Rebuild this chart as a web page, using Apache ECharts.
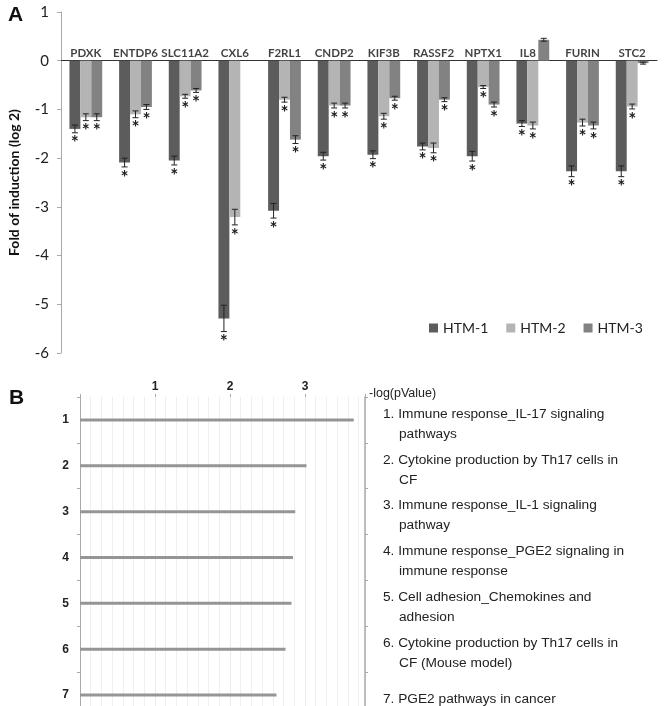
<!DOCTYPE html>
<html>
<head>
<meta charset="utf-8">
<script src="https://cdn.jsdelivr.net/npm/echarts@6/dist/echarts.min.js"></script>
<style>html,body{margin:0;padding:0;background:#fff;}#c{width:664px;height:706px;}</style>
</head>
<body>
<div id="c"></div>
<script>
// ---- Panel A data ----
const categories = ['PDXK','ENTDP6','SLC11A2','CXL6','F2RL1','CNDP2','KIF3B','RASSF2','NPTX1','IL8','FURIN','STC2'];
const seriesNames = ['HTM-1','HTM-2','HTM-3'];
const htm1 = [-1.40,-2.09,-2.05,-5.29,-3.08,-1.96,-1.93,-1.76,-1.96,-1.29,-2.27,-2.27];
const htm2 = [-1.16,-1.10,-0.73,-3.21,-0.80,-0.92,-1.14,-1.79,-0.54,-1.33,-1.27,-0.94];
const htm3 = [-1.16,-0.95,-0.61,null,-1.62,-0.92,-0.77,-0.80,-0.90,0.43,-1.33,-0.05];
const err1 = [0.08,0.09,0.09,0.27,0.15,0.08,0.08,0.07,0.10,0.06,0.11,0.11];
const err2 = [0.07,0.07,0.04,0.16,0.05,0.05,0.06,0.10,0.03,0.07,0.07,0.05];
const err3 = [0.07,0.05,0.04,null,0.08,0.05,0.04,0.04,0.05,0.03,0.07,0.02];
const sig1 = [1,1,1,1,1,1,1,1,1,1,1,1];
const sig2 = [1,1,1,1,1,1,1,1,1,1,1,1];
const sig3 = [1,1,1,0,1,1,1,1,1,0,1,0];
const yTicksA = {min:-6, max:1, interval:1};

// ---- Panel B data ----
const pathwayIds = ['1','2','3','4','5','6','7'];
const negLogP = [3.65, 3.02, 2.87, 2.84, 2.82, 2.74, 2.62];
const descLine1 = [
  '1. Immune response_IL-17 signaling',
  '2. Cytokine production by Th17 cells in',
  '3. Immune response_IL-1 signaling',
  '4. Immune response_PGE2 signaling in',
  '5. Cell adhesion_Chemokines and',
  '6. Cytokine production by Th17 cells in',
  '7. PGE2 pathways in cancer'
];
const descLine2 = ['pathways','CF','pathway','immune response','adhesion','CF (Mouse model)',''];

const colors = ['#5c5c5c','#b4b4b4','#828282'];
const vals = [htm1, htm2, htm3];
const errs = [err1, err2, err3];
const sigs = [sig1, sig2, sig3];
const GAP = 0.34;

const chart = echarts.init(document.getElementById('c'));

function errSeries(k){
  const data = [];
  categories.forEach((c,i)=>{ if (vals[k][i] != null) data.push([i, vals[k][i], errs[k][i], sigs[k][i]]); });
  return {
    type:'custom', name:'err'+k, xAxisIndex:0, yAxisIndex:0, z:5,
    encode:{x:0, y:1},
    data,
    renderItem:function(params, api){
      const ci = api.value(0), v = api.value(1), e = api.value(2), s = api.value(3);
      const bw = api.size([1,0])[0]*(1-GAP)/3;
      const cx = api.coord([ci, v])[0] + (k-1)*bw;
      const yTop = api.coord([ci, v+e])[1];
      const yBot = api.coord([ci, v-e])[1];
      const hw = 3;
      const st = {stroke:'#222', lineWidth:1};
      const children = [
        {type:'line', shape:{x1:cx, y1:yTop, x2:cx, y2:yBot}, style:st},
        {type:'line', shape:{x1:cx-hw, y1:yTop, x2:cx+hw, y2:yTop}, style:st},
        {type:'line', shape:{x1:cx-hw, y1:yBot, x2:cx+hw, y2:yBot}, style:st}
      ];
      if (s) {
        children.push({type:'text', style:{text:'*', x:cx, y:yBot+1, align:'center', verticalAlign:'top',
          font:'bold 19px Lato', fill:'#222'}});
      }
      return {type:'group', children};
    }
  };
}

const option = {
  animation:false,
  backgroundColor:'#fff',
  graphic:[
    {type:'text', left:8, top:5, style:{text:'A', font:'bold 21px "Liberation Sans"', fill:'#111'}},
    {type:'text', left:9, top:388, style:{text:'B', font:'bold 21px "Liberation Sans"', fill:'#111'}}
  ],
  legend:{
    data:seriesNames, left:424, top:316, icon:'rect', itemWidth:9, itemHeight:9, itemGap:18,
    textStyle:{fontFamily:'Lato', fontSize:14, color:'#222'}
  },
  grid:[
    {left:61, top:12, width:596, height:341, outerBoundsMode:'none'},
    {left:80, top:397, width:285, height:321, outerBoundsMode:'none'}
  ],
  xAxis:[
    {type:'category', gridIndex:0, data:categories, position:'bottom',
     axisLine:{onZero:true, lineStyle:{color:'#333', width:1}},
     axisTick:{show:false},
     axisLabel:{show:false}},
    {type:'value', gridIndex:1, position:'top', min:0, max:3.8, interval:1,
     name:'-log(pValue)', nameLocation:'end', nameGap:4, nameMoveOverlap:false,
     nameTextStyle:{fontFamily:'Liberation Sans', fontSize:12.5, color:'#222', verticalAlign:'bottom', padding:[0,0,-3,0]},
     axisLine:{lineStyle:{color:'#aaa'}},
     axisTick:{show:true, length:3, lineStyle:{color:'#aaa'}},
     axisLabel:{fontFamily:'Liberation Sans', fontWeight:'bold', fontSize:12, color:'#222', margin:4,
       formatter:function(v){ return Number.isInteger(v) && v>0 ? String(v) : ''; }},
     splitLine:{show:true, lineStyle:{color:'#ebebeb'}},
     minorTick:{show:false, splitNumber:7},
     minorSplitLine:{show:true, lineStyle:{color:'#efefef'}}}
  ],
  yAxis:[
    {type:'value', gridIndex:0, min:yTicksA.min, max:yTicksA.max, interval:yTicksA.interval,
     name:'Fold of induction (log 2)', nameLocation:'middle', nameGap:40, nameRotate:90,
     nameTextStyle:{fontFamily:'Lato', fontWeight:'bold', fontSize:14, color:'#111'},
     axisLine:{show:true, lineStyle:{color:'#aaa'}},
     axisTick:{show:true, length:4, lineStyle:{color:'#aaa'}},
     axisLabel:{fontFamily:'Lato', fontSize:15, color:'#222', margin:12},
     splitLine:{show:false}},
    {type:'category', gridIndex:1, data:pathwayIds, inverse:true, position:'left',
     axisLine:{show:true, lineStyle:{color:'#aaa'}},
     axisTick:{show:true, length:3, lineStyle:{color:'#aaa'}},
     axisLabel:{fontFamily:'Liberation Sans', fontWeight:'bold', fontSize:12, color:'#222', margin:11}},
    {type:'category', gridIndex:1, data:pathwayIds, inverse:true, position:'right',
     axisLine:{show:true, lineStyle:{color:'#aaa', width:1.5}},
     axisTick:{show:true, length:3, inside:false, lineStyle:{color:'#aaa'}},
     axisLabel:{margin:18, align:'left', padding:[8,0,0,0],
       formatter:function(v, i){
         return descLine2[i] ? '{a|'+descLine1[i]+'}\n{i| }{a|'+descLine2[i]+'}' : '{a|'+descLine1[i]+'}';
       },
       rich:{
         a:{fontFamily:'Liberation Sans', fontSize:13.7, color:'#222', lineHeight:20},
         i:{fontFamily:'Liberation Sans', fontSize:13.7, lineHeight:20, width:16}
       }}}
  ],
  series:[
    ...seriesNames.map((n,k)=>({
      type:'bar', name:n, xAxisIndex:0, yAxisIndex:0, data:vals[k],
      barGap:'0%', barCategoryGap:(GAP*100)+'%', itemStyle:{color:colors[k]}
    })),
    errSeries(0), errSeries(1), errSeries(2),
    {type:'scatter', name:'catLabels', xAxisIndex:0, yAxisIndex:0, symbolSize:0, silent:true,
     data:categories.map((c,i)=> c==='IL8' ? {value:[i,0], label:{offset:[-5,0]}} : [i,0]),
     label:{show:true, position:'top', distance:1, formatter:function(p){ return categories[p.dataIndex]; },
       fontFamily:'Lato', fontWeight:'bold', fontSize:11.5, color:'#111'}},
    {type:'bar', name:'pathways', xAxisIndex:1, yAxisIndex:1, data:negLogP, barWidth:3,
     itemStyle:{color:'#959595'}}
  ]
};
chart.setOption(option);
</script>
</body>
</html>
